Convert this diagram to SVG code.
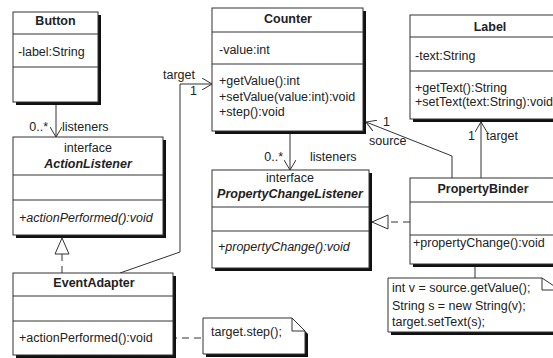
<svg xmlns="http://www.w3.org/2000/svg" width="553" height="358" viewBox="0 0 553 358">
<defs>
<style>
text{font-family:"Liberation Sans",Arial,sans-serif;font-size:12.5px;fill:#222}
.b{font-weight:bold}
.i{font-style:italic}
.bi{font-weight:bold;font-style:italic}
.m{text-anchor:middle}
.e{text-anchor:end}
.box{fill:#fff;stroke:#333;stroke-width:1}
.sh{fill:#111}
.ln{fill:none;stroke:#333;stroke-width:1}
.dash{fill:none;stroke:#333;stroke-width:1;stroke-dasharray:7 5}
</style>
<marker id="open" markerUnits="userSpaceOnUse" viewBox="0 0 10 12" refX="10" refY="6" markerWidth="10" markerHeight="12" orient="auto">
<path d="M0,0 L10,6 L0,12" fill="none" stroke="#333" stroke-width="1"/>
</marker>
<marker id="tri" markerUnits="userSpaceOnUse" viewBox="0 0 18 16" refX="17" refY="8" markerWidth="18" markerHeight="16" orient="auto">
<path d="M1,1 L17,8 L1,15 Z" fill="#fff" stroke="#333" stroke-width="1"/>
</marker>
</defs>

<g id="connectors">
<line class="ln" x1="56" y1="105" x2="56" y2="137" marker-end="url(#open)"/>
<polyline class="ln" points="120,273 180,252 180,84 212,84" marker-end="url(#open)"/>
<line class="ln" x1="290" y1="134" x2="290" y2="170" marker-end="url(#open)"/>
<polyline class="ln" points="452,178 452,156 366,122" marker-end="url(#open)"/>
<line class="ln" x1="481" y1="178" x2="481" y2="122" marker-end="url(#open)"/>
<line class="dash" x1="62" y1="273" x2="62" y2="238" marker-end="url(#tri)"/>
<line class="dash" x1="410" y1="222" x2="372" y2="222" marker-end="url(#tri)"/>
<line class="dash" x1="158" y1="338" x2="203" y2="338"/>
<line class="ln" x1="475" y1="253" x2="475" y2="278"/>
<text class="e" x="48" y="131">0..*</text>
<text x="62" y="131">listeners</text>
<text x="163" y="79">target</text>
<text x="190" y="95">1</text>
<text class="e" x="283" y="161">0..*</text>
<text x="310" y="161">listeners</text>
<text x="383" y="126">1</text>
<text x="369" y="145">source</text>
<text class="e" x="475" y="140">1</text>
<text x="486" y="140">target</text>
</g>

<g id="Button">
<rect class="sh" x="16" y="15" width="85" height="90"/>
<rect class="box" x="13" y="12" width="85" height="90"/>
<line class="ln" x1="13" y1="34" x2="98" y2="34"/>
<line class="ln" x1="13" y1="67" x2="98" y2="67"/>
<text class="b m" x="55.5" y="25">Button</text>
<text x="18" y="56">-label:String</text>
</g>

<g id="ActionListener">
<rect class="sh" x="16" y="140" width="150" height="98"/>
<rect class="box" x="13" y="137" width="150" height="98"/>
<line class="ln" x1="13" y1="175" x2="163" y2="175"/>
<line class="ln" x1="13" y1="200" x2="163" y2="200"/>
<text class="m" x="88" y="152">interface</text>
<text class="bi m" x="88" y="168">ActionListener</text>
<text class="i" x="19" y="222">+actionPerformed():void</text>
</g>

<g id="Counter">
<rect class="sh" x="215" y="11" width="151" height="123"/>
<rect class="box" x="212" y="8" width="151" height="123"/>
<line class="ln" x1="212" y1="32" x2="363" y2="32"/>
<line class="ln" x1="212" y1="64" x2="363" y2="64"/>
<text class="b m" x="288" y="23">Counter</text>
<text x="219" y="54">-value:int</text>
<text x="219" y="85">+getValue():int</text>
<text x="219" y="101">+setValue(value:int):void</text>
<text x="219" y="116">+step():void</text>
</g>

<g id="PropertyChangeListener">
<rect class="sh" x="215" y="173" width="157" height="98"/>
<rect class="box" x="212" y="170" width="157" height="98"/>
<line class="ln" x1="212" y1="207" x2="369" y2="207"/>
<line class="ln" x1="212" y1="231" x2="369" y2="231"/>
<text class="m" x="290" y="182">interface</text>
<text class="bi m" x="290" y="198">PropertyChangeListener</text>
<text class="i" x="218" y="251">+propertyChange():void</text>
</g>

<g id="Label">
<rect class="sh" x="413" y="18" width="160" height="104"/>
<rect class="box" x="410" y="15" width="160" height="104"/>
<line class="ln" x1="410" y1="37" x2="570" y2="37"/>
<line class="ln" x1="410" y1="71" x2="570" y2="71"/>
<text class="b m" x="490" y="31">Label</text>
<text x="415" y="60">-text:String</text>
<text x="415" y="92">+getText():String</text>
<text x="415" y="106">+setText(text:String):void</text>
</g>

<g id="PropertyBinder">
<rect class="sh" x="413" y="181" width="160" height="86"/>
<rect class="box" x="410" y="178" width="160" height="86"/>
<line class="ln" x1="410" y1="202" x2="570" y2="202"/>
<line class="ln" x1="410" y1="235" x2="570" y2="235"/>
<text class="b m" x="483" y="193">PropertyBinder</text>
<text x="413" y="247">+propertyChange():void</text>
</g>

<g id="EventAdapter">
<rect class="sh" x="16" y="276" width="160" height="82"/>
<rect class="box" x="13" y="273" width="160" height="82"/>
<line class="ln" x1="13" y1="296" x2="173" y2="296"/>
<line class="ln" x1="13" y1="321" x2="173" y2="321"/>
<text class="b m" x="94" y="287">EventAdapter</text>
<text x="19" y="342">+actionPerformed():void</text>
</g>

<g id="note1">
<path class="sh" d="M206,321 H295 L308,334 V357 H206 Z"/>
<path class="box" d="M203,318 H292 L305,331 V354 H203 Z"/>
<path class="ln" d="M292,318 V331 H305"/>
<text x="211" y="336">target.step();</text>
</g>

<g id="note2">
<path class="sh" d="M391,281 H545 L563,293 V335 H391 Z"/>
<path class="box" d="M388,278 H542 L560,290 V332 H388 Z"/>
<path class="ln" d="M542,278 V290 H560"/>
<text x="392" y="292">int v = source.getValue();</text>
<text x="392" y="310">String s = new String(v);</text>
<text x="392" y="326">target.setText(s);</text>
</g>
</svg>
